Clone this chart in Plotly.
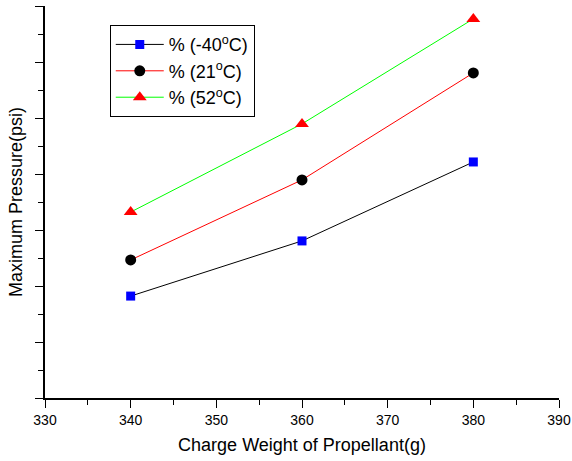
import plotly.graph_objects as go

x_weight = [340, 360, 380]
p_m40 = [3.64, 5.61, 8.43]
p_21 = [4.93, 7.79, 11.61]
p_52 = [6.64, 9.79, 13.54]
names = ["% (-40<sup>o</sup>C)", "% (21<sup>o</sup>C)", "% (52<sup>o</sup>C)"]

fig = go.Figure()
fig.add_trace(go.Scatter(x=x_weight, y=p_m40, name=names[0], mode="lines+markers",
                         line=dict(color="black", width=1),
                         marker=dict(symbol="square", color="#0000ff", size=9)))
fig.add_trace(go.Scatter(x=x_weight, y=p_21, name=names[1], mode="lines+markers",
                         line=dict(color="#ff0000", width=1),
                         marker=dict(symbol="circle", color="black", size=11)))
fig.add_trace(go.Scatter(x=x_weight, y=p_52, name=names[2], mode="lines+markers",
                         line=dict(color="#00ff00", width=1),
                         marker=dict(symbol="triangle-up", color="#ff0000", size=12)))

font = "Arial, Liberation Sans, sans-serif"
fig.update_layout(
    width=572, height=461,
    margin=dict(l=45, r=13, t=6, b=63),
    plot_bgcolor="white", paper_bgcolor="white",
    font=dict(family=font, color="black", size=14),
    showlegend=True,
    legend=dict(x=0.126, y=0.951, xanchor="left", yanchor="top",
                bordercolor="black", borderwidth=1, bgcolor="white", itemwidth=48,
                font=dict(size=18, family=font), tracegroupgap=0),
    xaxis=dict(range=[330, 390], dtick=10, tick0=330, showline=True, linecolor="black",
               linewidth=2, ticks="outside", ticklen=8, tickwidth=1, tickcolor="black",
               showgrid=False, zeroline=False, automargin=False,
               minor=dict(dtick=5, ticks="outside", ticklen=5, tickcolor="black"),
               tickfont=dict(size=14),
               title=dict(text="Charge Weight of Propellant(g)", font=dict(size=18), standoff=12)),
    yaxis=dict(range=[0, 14], dtick=2, tick0=0, showline=True, linecolor="black",
               linewidth=2, ticks="outside", ticklen=8, tickwidth=1, tickcolor="black",
               showgrid=False, zeroline=False, showticklabels=False, automargin=False,
               minor=dict(dtick=1, ticks="outside", ticklen=5, tickcolor="black"),
               title=dict(text="Maximum Pressure(psi)", font=dict(size=18), standoff=8)),
)
fig.write_html("out.html", config={"displayModeBar": False},
               post_script="document.body.style.margin='0';")
